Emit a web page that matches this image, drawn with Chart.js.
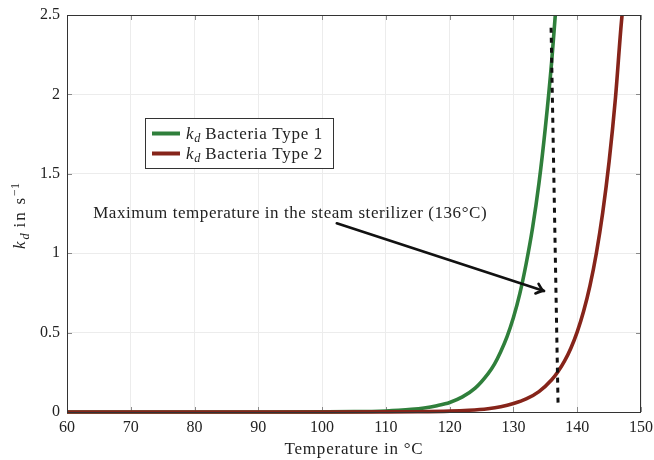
<!DOCTYPE html>
<html><head><meta charset="utf-8">
<script src="https://cdn.jsdelivr.net/npm/chart.js@4.4.0/dist/chart.umd.min.js"></script>
<style>html,body{margin:0;padding:0;background:#fff}#wrap{width:654px;height:460px}</style>
</head><body><div id="wrap"><canvas id="c" width="654" height="460"></canvas></div>
<script>
// ---- data ----
const xTicks = [60, 70, 80, 90, 100, 110, 120, 130, 140, 150];
const yTicks = [0, 0.5, 1, 1.5, 2, 2.5];
const yTickLabels = ['0', '0.5', '1', '1.5', '2', '2.5'];
const seriesNames = ['Bacteria Type 1', 'Bacteria Type 2'];

const tempType1 = [60, 70, 80, 90, 100, 105, 110, 112, 114, 116, 118, 120, 122, 124, 126, 127, 128, 129, 130, 131, 132, 133, 134, 135, 136, 136.6];
const kType1    = [0, 0, 0, 0.0001, 0.0007, 0.0021, 0.0066, 0.0104, 0.0163, 0.0255, 0.040, 0.060, 0.095, 0.15, 0.24, 0.30, 0.38, 0.475, 0.595, 0.745, 0.935, 1.16, 1.44, 1.79, 2.21, 2.52];

const tempType2 = [60, 70, 80, 90, 100, 110, 115, 120, 123, 126, 128, 130, 132, 134, 136, 137, 138, 139, 140, 141, 142, 143, 144, 145, 146, 147, 147.2];
const kType2    = [0, 0, 0, 0, 0.0001, 0.0005, 0.0017, 0.0055, 0.011, 0.021, 0.033, 0.053, 0.082, 0.128, 0.203, 0.255, 0.32, 0.402, 0.505, 0.634, 0.796, 1.0, 1.256, 1.577, 1.98, 2.486, 2.55];

const sterilizerLineT = [135.9, 137.0];
const sterilizerLineK = [2.42, 0.04];

const annotationText = 'Maximum temperature in the steam sterilizer (136°C)';
const annotationAt = [64.1, 1.253];
const arrowFrom = [102.3, 1.188];
const arrowTo = [134.8, 0.762];

const xTitle = 'Temperature in °C';

// ---- styling ----
const SERIF = '"Liberation Serif", "DejaVu Serif", serif';
const GREEN = '#2f7f3b';
const RED = '#86241a';

const pts = (xs, ys) => xs.map((x, i) => ({x, y: ys[i]}));

function drawRich(ctx, segs, x, y, size, align, targetW) {
  const measure = (sp) => segs.map(s => {
    const fs = (s.sub || s.sup) ? size * 0.72 : size;
    const font = (s.it ? 'italic ' : '') + fs + 'px ' + SERIF;
    ctx.font = font;
    ctx.letterSpacing = (s.sub || s.sup) ? '0px' : sp + 'px';
    return {s, font, sp: ctx.letterSpacing, w: ctx.measureText(s.t).width};
  });
  let parts = measure(0);
  let total = parts.reduce((a, p) => a + p.w, 0);
  if (targetW) {
    const n = segs.reduce((a, s) => a + ((s.sub || s.sup) ? 0 : s.t.length), 0);
    const sp = Math.max(0, (targetW - total) / n);
    parts = measure(sp);
    total = parts.reduce((a, p) => a + p.w, 0);
  }
  let cx = align === 'center' ? x - total / 2 : x;
  ctx.textBaseline = 'alphabetic';
  ctx.textAlign = 'left';
  for (const p of parts) {
    ctx.font = p.font;
    ctx.letterSpacing = p.sp;
    let dy = 0;
    if (p.s.sub) dy = size * 0.22;
    if (p.s.sup) dy = -size * 0.38;
    ctx.fillText(p.s.t, cx, y + dy);
    cx += p.w;
  }
  ctx.letterSpacing = '0px';
  return total;
}

const decor = {
  id: 'decor',
  beforeDatasetsDraw(chart) {
    const {ctx, chartArea: a, scales: {x, y}} = chart;
    ctx.save();
    ctx.strokeStyle = '#8a8a8a';
    ctx.lineWidth = 1;
    ctx.beginPath();
    for (const v of xTicks) {
      const px = Math.round(x.getPixelForValue(v)) + 0.5;
      ctx.moveTo(px, a.bottom); ctx.lineTo(px, a.bottom - 5);
      ctx.moveTo(px, a.top); ctx.lineTo(px, a.top + 5);
    }
    for (const v of yTicks) {
      const py = Math.round(y.getPixelForValue(v)) + 0.5;
      ctx.moveTo(a.left, py); ctx.lineTo(a.left + 5, py);
      ctx.moveTo(a.right, py); ctx.lineTo(a.right - 5, py);
    }
    ctx.stroke();
    ctx.restore();
  },
  afterDatasetsDraw(chart) {
    const {ctx, chartArea: a, scales: {x, y}} = chart;
    ctx.save();
    // frame
    ctx.strokeStyle = '#333';
    ctx.lineWidth = 1;
    ctx.strokeRect(a.left + 0.5, a.top + 0.5, a.right - a.left - 1, a.bottom - a.top);

    // arrow
    const x0 = x.getPixelForValue(arrowFrom[0]), y0 = y.getPixelForValue(arrowFrom[1]);
    const x1 = x.getPixelForValue(arrowTo[0]), y1 = y.getPixelForValue(arrowTo[1]);
    ctx.strokeStyle = '#111';
    ctx.lineWidth = 2.6;
    ctx.lineCap = 'round';
    ctx.beginPath(); ctx.moveTo(x0, y0); ctx.lineTo(x1, y1); ctx.stroke();
    const ang = Math.atan2(y1 - y0, x1 - x0);
    const hl = 9, ha = 0.6;
    ctx.beginPath();
    ctx.moveTo(x1 - hl * Math.cos(ang - ha), y1 - hl * Math.sin(ang - ha));
    ctx.quadraticCurveTo(x1 - 2 * Math.cos(ang), y1 - 2 * Math.sin(ang), x1, y1);
    ctx.quadraticCurveTo(x1 - 2 * Math.cos(ang), y1 - 2 * Math.sin(ang), x1 - hl * Math.cos(ang + ha), y1 - hl * Math.sin(ang + ha));
    ctx.stroke();

    // annotation text
    ctx.fillStyle = '#222';
    drawRich(ctx, [{t: annotationText}], x.getPixelForValue(annotationAt[0]), y.getPixelForValue(annotationAt[1]) + 5, 17, 'left', 394);

    // legend
    const lx = 145.5, ly = 118.5, lw = 188, lh = 50;
    ctx.fillStyle = '#fff';
    ctx.fillRect(lx, ly, lw, lh);
    ctx.strokeStyle = '#333';
    ctx.lineWidth = 1;
    ctx.strokeRect(lx, ly, lw, lh);
    const cols = [GREEN, RED];
    seriesNames.forEach((name, i) => {
      const cy = 133.5 + i * 20;
      ctx.strokeStyle = cols[i];
      ctx.lineWidth = 4;
      ctx.lineCap = 'butt';
      ctx.beginPath(); ctx.moveTo(152, cy); ctx.lineTo(180, cy); ctx.stroke();
      ctx.fillStyle = '#222';
      drawRich(ctx, [{t: 'k', it: true}, {t: 'd', it: true, sub: true}, {t: ' ' + name}], 186, cy + 5, 17, 'left', 137);
    });

    // axis titles
    ctx.fillStyle = '#222';
    drawRich(ctx, [{t: xTitle}], (a.left + a.right) / 2, 454, 17, 'center', 139);

    ctx.save();
    ctx.translate(25, 216);
    ctx.rotate(-Math.PI / 2);
    drawRich(ctx, [{t: 'k', it: true}, {t: 'd', it: true, sub: true}, {t: ' in s'}, {t: '−1', sup: true}], 0, 0, 17, 'center', 66);
    ctx.restore();
    ctx.restore();
  }
};

new Chart(document.getElementById('c'), {
  type: 'line',
  data: {
    datasets: [
      {label: seriesNames[0], data: pts(tempType1, kType1), borderColor: GREEN, borderWidth: 3.6, pointRadius: 0, cubicInterpolationMode: 'monotone', order: 2, clip: {left: 0, top: 0, right: 0, bottom: 3}},
      {label: seriesNames[1], data: pts(tempType2, kType2), borderColor: RED, borderWidth: 3.6, pointRadius: 0, cubicInterpolationMode: 'monotone', order: 1, clip: {left: 0, top: 0, right: 0, bottom: 3}},
      {label: 'max', data: pts(sterilizerLineT, sterilizerLineK), borderColor: '#111', borderWidth: 3, borderDash: [5, 5], pointRadius: 0, order: 0}
    ]
  },
  options: {
    responsive: false,
    animation: false,
    devicePixelRatio: 1,
    layout: {padding: {top: 15, right: 13, left: 0, bottom: 0}},
    plugins: {legend: {display: false}, tooltip: {enabled: false}},
    scales: {
      x: {
        type: 'linear', min: 60, max: 150,
        afterBuildTicks: s => { s.ticks = xTicks.map(v => ({value: v})); },
        afterFit: s => { s.height = 48; s.paddingLeft = 0; s.paddingRight = 0; },
        ticks: {font: {family: SERIF, size: 16}, color: '#222', padding: 6, maxRotation: 0, autoSkip: false, callback: v => String(v)},
        grid: {color: '#ececec', drawTicks: false},
        border: {display: false}
      },
      y: {
        type: 'linear', min: 0, max: 2.5,
        afterBuildTicks: s => { s.ticks = yTicks.map(v => ({value: v})); },
        afterFit: s => { s.width = 67; s.paddingTop = 0; s.paddingBottom = 0; },
        ticks: {font: {family: SERIF, size: 16}, color: '#222', padding: 7, autoSkip: false, callback: v => yTickLabels[yTicks.indexOf(v)]},
        grid: {color: '#ececec', drawTicks: false},
        border: {display: false}
      }
    }
  },
  plugins: [decor]
});
</script>
</body></html>
